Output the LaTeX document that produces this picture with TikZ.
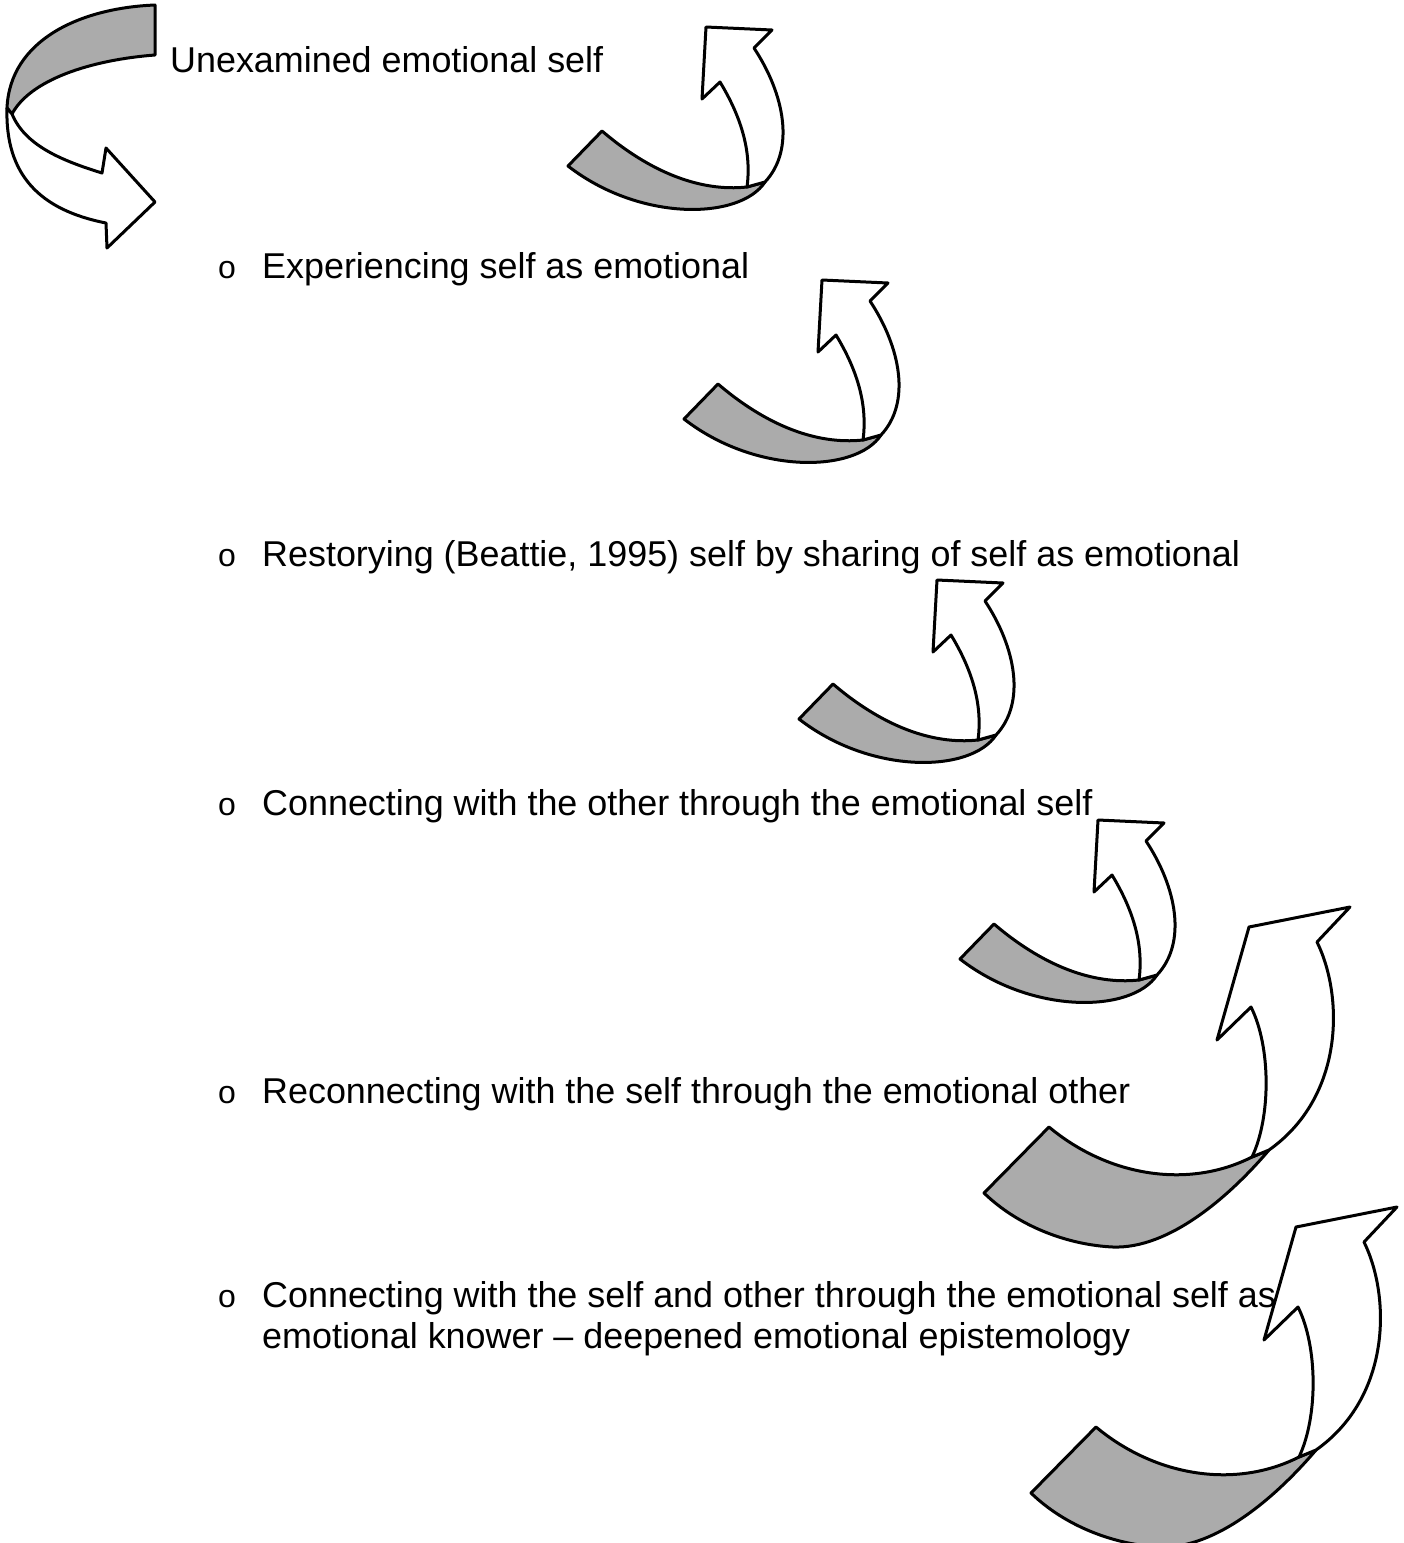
\documentclass[tikz,border=0pt]{standalone}
\usepackage{fontspec}
\setmainfont{Liberation Sans}
\begin{document}
\begin{tikzpicture}[x=1pt,y=-1pt,
  ribbonback/.style={draw=black, fill=black!33, line width=3pt, line join=round},
  ribbonfront/.style={draw=black, fill=white, line width=3pt, line join=round},
  label/.style={anchor=base west, inner sep=0pt, font=\fontsize{35.9}{41}\selectfont},
  bulletmark/.style={anchor=base, inner sep=0pt, font=\fontsize{32}{32}\selectfont},
  smallarrow/.pic={
    \draw[ribbonback] (-104,104) .. controls (-56,145) and (-6,165) .. (41,160)
      -- (59,155) .. controls (34,193) and (-66,195) .. (-138,139) -- cycle;
    \draw[ribbonfront] (41,160) .. controls (46,123) and (34,88) .. (14,55)
      -- (-4,72) -- (0,0) -- (66,3) -- (48,21)
      .. controls (79,68) and (89,123) .. (59,155) -- cycle;
  },
  bigarrow/.pic={
    \draw[ribbonback] (-200,200) .. controls (-140,250) and (-60,262) .. (3,230)
      -- (20,223) .. controls (-20,270) and (-80,322) .. (-136,320)
      .. controls (-180,318) and (-230,300) .. (-265,266) -- cycle;
    \draw[ribbonfront] (3,230) .. controls (22,190) and (22,120) .. (2,80)
      -- (-32,113) -- (0,0) -- (101,-20) -- (68,15)
      .. controls (95,70) and (95,170) .. (20,223) -- cycle;
  }]
\useasboundingbox (0,0) rectangle (1404,1543);

% texts
\node[label] (t0) at (170,72) {Unexamined emotional self};
\node[bulletmark] (b1) at (227,278) {o};
\node[label] (t1) at (262,278) {Experiencing self as emotional};
\node[bulletmark] (b2) at (227,566) {o};
\node[label] (t2) at (262,566) {Restorying (Beattie, 1995) self by sharing of self as emotional};
\node[bulletmark] (b3) at (227,815) {o};
\node[label] (t3) at (262,815) {Connecting with the other through the emotional self};
\node[bulletmark] (b4) at (227,1103) {o};
\node[label] (t4) at (262,1103) {Reconnecting with the self through the emotional other};
\node[bulletmark] (b5) at (227,1307) {o};
\node[label] (t5) at (262,1307) {Connecting with the self and other through the emotional self as};
\node[label] (t5b) at (262,1348) {emotional knower -- deepened emotional epistemology};

% top-left curled arrow
\draw[ribbonback] (155,5) .. controls (80,8) and (10,40) .. (7,108)
  -- (12,114) .. controls (30,80) and (90,60) .. (155,55) -- cycle;
\draw[ribbonfront] (7,108) .. controls (5,175) and (40,210) .. (106,223)
  -- (107,248) -- (155,202) -- (106,148) -- (102,173)
  .. controls (60,160) and (25,145) .. (12,114) -- cycle;

% small curled arrows
\pic at (706,27) {smallarrow};
\pic at (822,280) {smallarrow};
\pic at (937,580) {smallarrow};
\pic at (1098,820) {smallarrow};

% big curled arrows
\pic at (1249,927) {bigarrow};
\pic at (1296,1227) {bigarrow};
\end{tikzpicture}
\end{document}
